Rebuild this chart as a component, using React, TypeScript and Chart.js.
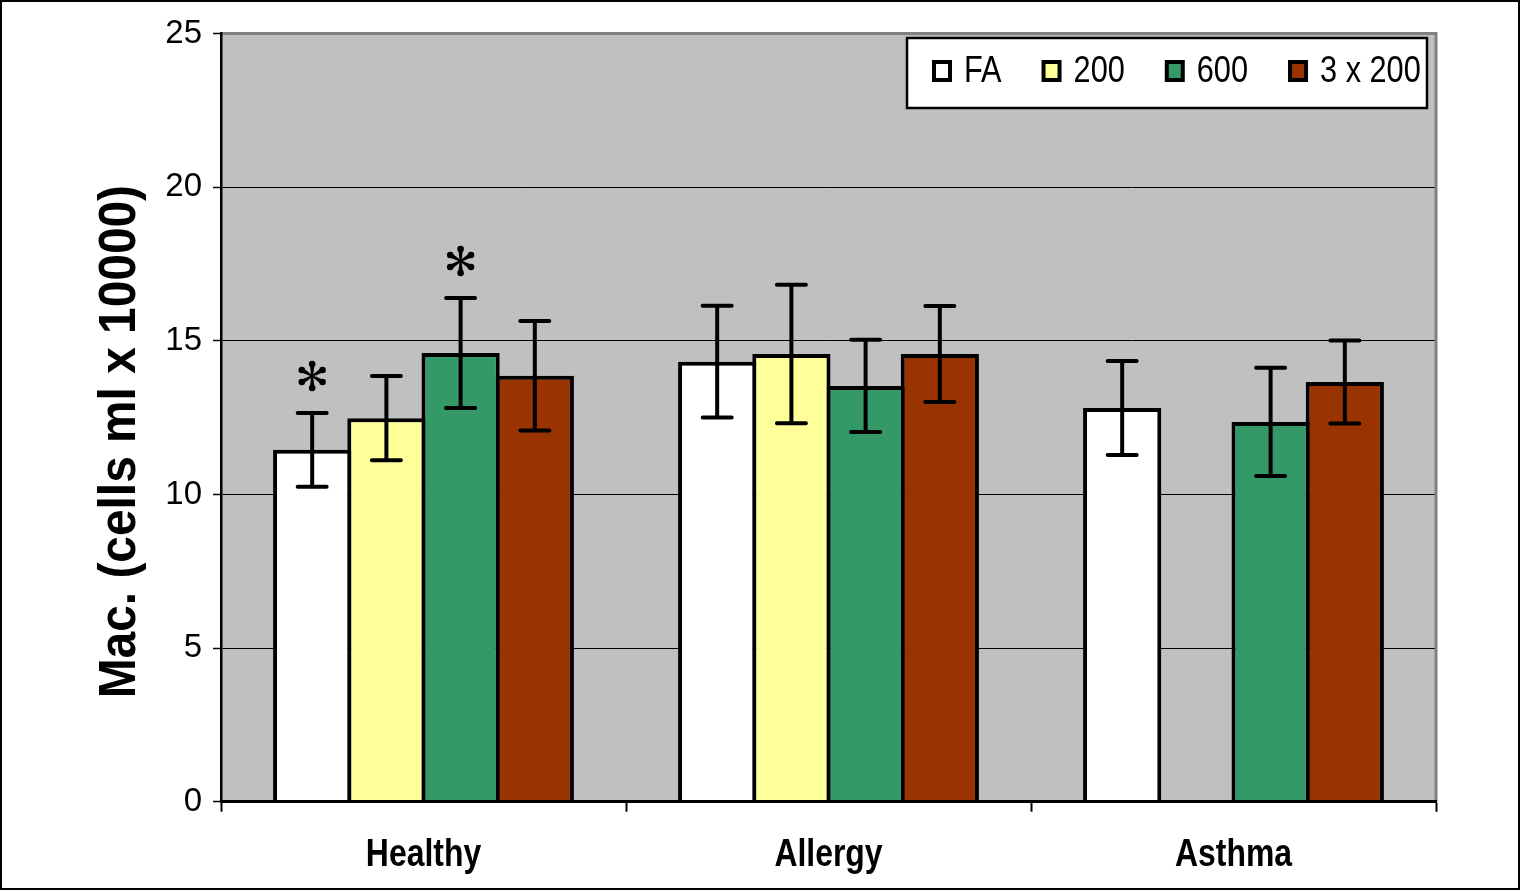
import { useEffect, useRef } from "react";
import { Chart, registerables } from "chart.js";

Chart.register(...registerables);

// Groups on the x axis and the four exposure series
const groups = ["Healthy", "Allergy", "Asthma"];
const seriesNames = ["FA", "200", "600", "3 x 200"];
const seriesColors = ["#FFFFFF", "#FFFF99", "#339966", "#993300"];

// Mean macrophage counts (cells/ml x 10000) and their error half-widths
const faMean = [11.45, 14.32, 12.81];
const faErr = [1.2, 1.82, 1.53];
const dose200Mean = [12.48, 14.57, null];
const dose200Err = [1.37, 2.25, null];
const dose600Mean = [14.6, 13.53, 12.36];
const dose600Err = [1.79, 1.5, 1.76];
const dose3x200Mean = [13.86, 14.57, 13.66];
const dose3x200Err = [1.78, 1.56, 1.35];

// Significance marks (*) per series and group
const faStars = [true, false, false];
const dose200Stars = [false, false, false];
const dose600Stars = [true, false, false];
const dose3x200Stars = [false, false, false];

// Value axis
const yMin = 0;
const yMax = 25;
const yStep = 5;
const yTitle = "Mac. (cells ml x 10000)";

const seriesMeans = [faMean, dose200Mean, dose600Mean, dose3x200Mean];
const seriesErrors = [faErr, dose200Err, dose600Err, dose3x200Err];
const seriesStars = [faStars, dose200Stars, dose600Stars, dose3x200Stars];

const FONT = "'Liberation Sans', Arial, Helvetica, sans-serif";

// Draws text compressed along its own writing direction
function narrowText(
  ctx: CanvasRenderingContext2D,
  text: string,
  x: number,
  y: number,
  font: string,
  squeeze: number,
  align: CanvasTextAlign,
  angle = 0
) {
  ctx.save();
  ctx.translate(x, y);
  if (angle) ctx.rotate(angle);
  ctx.scale(squeeze, 1);
  ctx.font = font;
  ctx.textAlign = align;
  ctx.textBaseline = "alphabetic";
  ctx.fillStyle = "#000000";
  ctx.fillText(text, 0, 0);
  ctx.restore();
}

function measureNarrow(ctx: CanvasRenderingContext2D, text: string, font: string, squeeze: number) {
  ctx.save();
  ctx.font = font;
  const w = ctx.measureText(text).width * squeeze;
  ctx.restore();
  return w;
}

// Grey plot area, white page and the outer frame
const frameAndPlotArea = {
  id: "frameAndPlotArea",
  beforeDraw(chart: any) {
    const { ctx, chartArea: a, width, height } = chart;
    ctx.save();
    ctx.fillStyle = "#FFFFFF";
    ctx.fillRect(0, 0, width, height);
    ctx.fillStyle = "#C0C0C0";
    ctx.fillRect(a.left, a.top, a.right - a.left, a.bottom - a.top);
    ctx.restore();
  },
  beforeDatasetsDraw(chart: any) {
    const { ctx, chartArea: a } = chart;
    ctx.save();
    ctx.strokeStyle = "#808080";
    ctx.lineWidth = 3;
    ctx.beginPath();
    ctx.moveTo(a.left, a.top);
    ctx.lineTo(a.right, a.top);
    ctx.lineTo(a.right, a.bottom);
    ctx.stroke();
    ctx.restore();
  },
  afterDraw(chart: any) {
    const { ctx, width } = chart;
    ctx.save();
    ctx.strokeStyle = "#000000";
    ctx.lineWidth = 2;
    ctx.strokeRect(1, 1, width - 3, 888);
    ctx.restore();
  },
};

// Six-armed asterisk with rounded tips
function drawAsterisk(ctx: CanvasRenderingContext2D, cx: number, cy: number) {
  const arm = 12;
  const bulb = 3.3;
  ctx.save();
  ctx.fillStyle = "#000000";
  for (let k = 0; k < 6; k++) {
    const ang = -Math.PI / 2 + (k * Math.PI) / 3;
    const dx = Math.cos(ang);
    const dy = Math.sin(ang);
    const px = -dy;
    const py = dx;
    const ex = cx + dx * arm;
    const ey = cy + dy * arm;
    ctx.beginPath();
    ctx.moveTo(cx + px * 0.9, cy + py * 0.9);
    ctx.lineTo(ex + px * 2.4, ey + py * 2.4);
    ctx.lineTo(ex - px * 2.4, ey - py * 2.4);
    ctx.lineTo(cx - px * 0.9, cy - py * 0.9);
    ctx.closePath();
    ctx.fill();
    ctx.beginPath();
    ctx.arc(ex, ey, bulb, 0, Math.PI * 2);
    ctx.fill();
  }
  ctx.restore();
}

// Error bars with caps and significance asterisks
const errorBarsAndStars = {
  id: "errorBarsAndStars",
  afterDatasetsDraw(chart: any) {
    const { ctx } = chart;
    const y = chart.scales.y;
    const capHalf = 14.5;
    ctx.save();
    ctx.strokeStyle = "#000000";
    ctx.lineWidth = 4;
    seriesMeans.forEach((means, si) => {
      const meta = chart.getDatasetMeta(si);
      means.forEach((m, ci) => {
        const e = seriesErrors[si][ci];
        if (m == null || e == null) return;
        const el = meta.data[ci];
        if (!el) return;
        const x = el.x;
        const top = y.getPixelForValue(m + e);
        const bot = y.getPixelForValue(m - e);
        ctx.lineCap = "butt";
        ctx.beginPath();
        ctx.moveTo(x, top);
        ctx.lineTo(x, bot);
        ctx.stroke();
        ctx.lineCap = "round";
        ctx.beginPath();
        ctx.moveTo(x - capHalf, top);
        ctx.lineTo(x + capHalf, top);
        ctx.moveTo(x - capHalf, bot);
        ctx.lineTo(x + capHalf, bot);
        ctx.stroke();
        if (seriesStars[si][ci]) drawAsterisk(ctx, x, top - 37);
      });
    });
    ctx.restore();
  },
};

// Category labels, rotated value-axis title and the boxed legend
const textAndLegend = {
  id: "textAndLegend",
  afterDraw(chart: any) {
    const { ctx, chartArea: a } = chart;
    const x = chart.scales.x;

    const catFont = `bold 38px ${FONT}`;
    groups.forEach((g, i) => {
      narrowText(ctx, g, x.getPixelForValue(i), a.bottom + 64, catFont, 0.84, "center");
    });

    const titleFont = `bold 52px ${FONT}`;
    narrowText(ctx, yTitle, 135, (a.top + a.bottom) / 2 + 24, titleFont, 0.92, "center", -Math.PI / 2);

    // legend box
    const boxRight = a.right - 9;
    const boxTop = a.top + 4.5;
    const boxLeft = 907;
    const boxBottom = boxTop + 70;
    ctx.save();
    ctx.fillStyle = "#FFFFFF";
    ctx.fillRect(boxLeft, boxTop, boxRight - boxLeft, boxBottom - boxTop);
    ctx.strokeStyle = "#000000";
    ctx.lineWidth = 2.5;
    ctx.strokeRect(boxLeft, boxTop, boxRight - boxLeft, boxBottom - boxTop);
    ctx.restore();

    const legendFont = `37px ${FONT}`;
    const squeeze = 0.83;
    let cursor = boxLeft + 25;
    seriesNames.forEach((name, i) => {
      ctx.save();
      ctx.fillStyle = "#000000";
      ctx.fillRect(cursor, boxTop + 22, 20, 22);
      ctx.fillStyle = seriesColors[i];
      ctx.fillRect(cursor + 4, boxTop + 26, 12, 14);
      ctx.restore();
      const tx = cursor + 32;
      narrowText(ctx, name, tx, boxTop + 43.5, legendFont, squeeze, "left");
      cursor = tx + measureNarrow(ctx, name, legendFont, squeeze) + 40;
    });
  },
};

export default function App() {
  const canvasRef = useRef<HTMLCanvasElement | null>(null);

  useEffect(() => {
    document.body.style.margin = "0";
    const canvas = canvasRef.current;
    if (!canvas) return;

    const chart = new Chart(canvas, {
      type: "bar",
      data: {
        labels: groups,
        datasets: seriesNames.map((name, i) => ({
          label: name,
          data: seriesMeans[i] as any,
          backgroundColor: seriesColors[i],
          borderColor: "#000000",
          borderWidth: 4,
          borderSkipped: "start",
          categoryPercentage: 0.733,
          barPercentage: 1.054,
        })),
      },
      options: {
        animation: false,
        responsive: false,
        maintainAspectRatio: false,
        events: [],
        layout: { padding: { top: 33.5, right: 85, bottom: 0, left: 0 } },
        plugins: {
          legend: { display: false },
          tooltip: { enabled: false },
          title: { display: false },
        },
        scales: {
          x: {
            offset: true,
            grid: {
              offset: true,
              drawOnChartArea: false,
              drawTicks: true,
              tickLength: 10,
              tickColor: "#000000",
              tickWidth: 2,
            },
            border: { display: true, color: "#000000", width: 3, z: 1 },
            ticks: { display: false },
            afterFit: (s: any) => {
              s.height = 90.3;
            },
          },
          y: {
            min: yMin,
            max: yMax,
            ticks: {
              stepSize: yStep,
              color: "#000000",
              padding: 11,
              font: { family: FONT, size: 33 },
            },
            grid: {
              color: (c: any) =>
                c.tick && c.tick.value > yMin && c.tick.value < yMax ? "#000000" : "rgba(0,0,0,0)",
              lineWidth: 1,
              tickLength: 8,
              tickColor: "#000000",
              tickWidth: 1.5,
            },
            border: { display: true, color: "#000000", width: 2.5, z: 1 },
            afterFit: (s: any) => {
              s.width = 221;
            },
          },
        },
      },
      plugins: [frameAndPlotArea, errorBarsAndStars, textAndLegend],
    });

    return () => chart.destroy();
  }, []);

  return (
    <div style={{ width: 1521, height: 892, position: "relative" }}>
      <canvas ref={canvasRef} width={1521} height={892} style={{ display: "block" }} />
    </div>
  );
}
